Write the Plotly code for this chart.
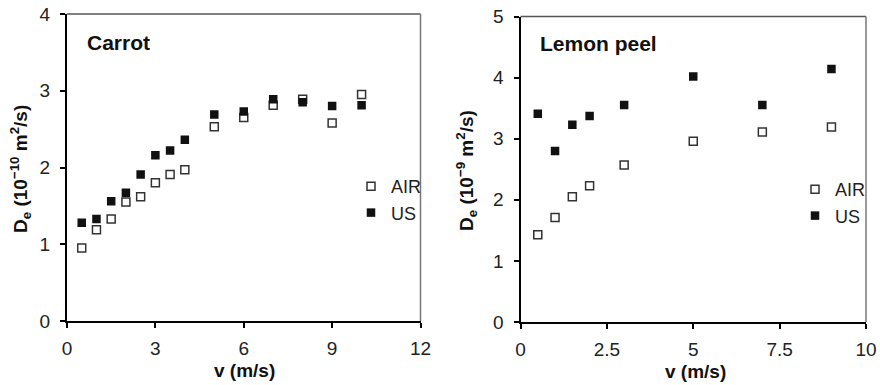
import plotly.graph_objects as go

W, H = 880, 385

# ---- data ----
carrot_v = [0.5, 1, 1.5, 2, 2.5, 3, 3.5, 4, 5, 6, 7, 8, 9, 10]
carrot_air = [0.95, 1.19, 1.33, 1.55, 1.62, 1.80, 1.91, 1.97, 2.53, 2.65, 2.81, 2.89, 2.58, 2.95]
carrot_us = [1.28, 1.33, 1.56, 1.67, 1.91, 2.16, 2.22, 2.36, 2.69, 2.73, 2.89, 2.85, 2.80, 2.81]

lemon_v = [0.5, 1, 1.5, 2, 3, 5, 7, 9]
lemon_air = [1.43, 1.71, 2.05, 2.23, 2.57, 2.96, 3.11, 3.19]
lemon_us = [3.41, 2.80, 3.23, 3.37, 3.55, 4.02, 3.55, 4.14]

carrot_xticks = [0, 3, 6, 9, 12]
carrot_yticks = [0, 1, 2, 3, 4]
lemon_xticks = [0, 2.5, 5, 7.5, 10]
lemon_xticklabels = ["0", "2.5", "5", "7.5", "10"]
lemon_yticks = [0, 1, 2, 3, 4, 5]

FONT = "Liberation Sans, Arial, sans-serif"
TXT = "#222"

def px_x(p):
    return p / W

def px_y(p):
    return 1 - p / H

fig = go.Figure()

air_marker = dict(symbol="square", size=8, color="white", line=dict(color="#333", width=1.5))
us_marker = dict(symbol="square", size=8.5, color="#111", line=dict(color="#111", width=0))

fig.add_trace(go.Scatter(x=carrot_v, y=carrot_air, mode="markers", name="AIR",
                         marker=air_marker, xaxis="x", yaxis="y", legend="legend"))
fig.add_trace(go.Scatter(x=carrot_v, y=carrot_us, mode="markers", name="US",
                         marker=us_marker, xaxis="x", yaxis="y", legend="legend"))
fig.add_trace(go.Scatter(x=lemon_v, y=lemon_air, mode="markers", name="AIR",
                         marker=air_marker, xaxis="x2", yaxis="y2", legend="legend2"))
fig.add_trace(go.Scatter(x=lemon_v, y=lemon_us, mode="markers", name="US",
                         marker=us_marker, xaxis="x2", yaxis="y2", legend="legend2"))

axis_common = dict(showgrid=False, zeroline=False, showline=True, linecolor="black", linewidth=2,
                   ticks="outside", ticklen=5, tickwidth=1.5, tickcolor="black", automargin=False,
                   tickfont=dict(family=FONT, size=19, color=TXT))

fig.update_layout(
    width=W, height=H,
    margin=dict(l=0, r=0, t=0, b=0, pad=0),
    paper_bgcolor="white", plot_bgcolor="white",
    xaxis=dict(domain=[px_x(67), px_x(420.5)], range=[0, 12], tickvals=carrot_xticks,
               anchor="y", ticklabelstandoff=4, **axis_common),
    yaxis=dict(domain=[px_y(321), px_y(14)], range=[0, 4], tickvals=carrot_yticks,
               anchor="x", ticklabelstandoff=6, **axis_common),
    xaxis2=dict(domain=[px_x(520.5), px_x(866)], range=[0, 10], tickvals=lemon_xticks,
                ticktext=lemon_xticklabels, anchor="y2", ticklabelstandoff=4, **axis_common),
    yaxis2=dict(domain=[px_y(322), px_y(16.5)], range=[0, 5], tickvals=lemon_yticks,
                anchor="x2", ticklabelstandoff=6, **axis_common),
    legend=dict(x=px_x(351), y=px_y(168), xanchor="left", yanchor="top",
                font=dict(family=FONT, size=18, color=TXT), bgcolor="rgba(0,0,0,0)",
                itemwidth=30, tracegroupgap=0),
    legend2=dict(x=px_x(795), y=px_y(171), xanchor="left", yanchor="top",
                 font=dict(family=FONT, size=18, color=TXT), bgcolor="rgba(0,0,0,0)",
                 itemwidth=30, tracegroupgap=0),
)

# grey top/right frame edges
for xr, yr in (("x domain", "y domain"), ("x2 domain", "y2 domain")):
    fig.add_shape(type="line", xref=xr, yref=yr, x0=0, x1=1, y0=1, y1=1,
                  line=dict(color="#555", width=1.5))
    fig.add_shape(type="line", xref=xr, yref=yr, x0=1, x1=1, y0=0, y1=1,
                  line=dict(color="#777", width=1.5))

# panel titles
fig.add_annotation(text="<b>Carrot</b>", xref="paper", yref="paper", x=px_x(85), y=px_y(42),
                   xanchor="left", yanchor="middle", showarrow=False,
                   font=dict(family=FONT, size=21, color="#111"))
fig.add_annotation(text="<b>Lemon peel</b>", xref="paper", yref="paper", x=px_x(538), y=px_y(43),
                   xanchor="left", yanchor="middle", showarrow=False,
                   font=dict(family=FONT, size=21, color="#111"))

# axis titles
for xc, yc in ((244, 370), (695, 371)):
    fig.add_annotation(text="<b>v (m/s)</b>", xref="paper", yref="paper", x=px_x(xc), y=px_y(yc),
                       xanchor="center", yanchor="middle", showarrow=False,
                       font=dict(family=FONT, size=19, color="#111"))

fig.add_annotation(text="<b>D<sub>e</sub> (10<sup>−10</sup> m<sup>2</sup>/s)</b>", xref="paper", yref="paper",
                   x=px_x(20), y=px_y(169), textangle=-90, xanchor="center", yanchor="middle",
                   showarrow=False, font=dict(family=FONT, size=19, color="#111"))
fig.add_annotation(text="<b>D<sub>e</sub> (10<sup>−9</sup> m<sup>2</sup>/s)</b>", xref="paper", yref="paper",
                   x=px_x(467), y=px_y(170), textangle=-90, xanchor="center", yanchor="middle",
                   showarrow=False, font=dict(family=FONT, size=19, color="#111"))

fig.write_html("out.html")
